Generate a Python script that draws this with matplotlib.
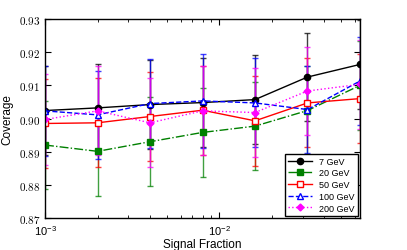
import matplotlib
matplotlib.use("Agg")
import matplotlib.pyplot as plt
from matplotlib.ticker import FuncFormatter, MultipleLocator

plt.rcParams['font.family'] = ['Liberation Sans', 'DejaVu Sans']
plt.rcParams['mathtext.fontset'] = 'cm'

fractions = [0.001, 0.002, 0.004, 0.008, 0.016, 0.032, 0.064]
labels = ["7 GeV", "20 GeV", "50 GeV", "100 GeV", "200 GeV"]
cov_7 = [0.9024, 0.9032, 0.9042, 0.9048, 0.9057, 0.9125, 0.9163]
cov_20 = [0.8920, 0.8901, 0.8930, 0.8958, 0.8977, 0.9024, 0.9100]
cov_50 = [0.8985, 0.8987, 0.9006, 0.9025, 0.8993, 0.9047, 0.9060]
cov_100 = [0.9023, 0.9011, 0.9045, 0.9053, 0.9047, 0.9027, 0.9113]
cov_200 = [0.8997, 0.9023, 0.8987, 0.9023, 0.9018, 0.9083, 0.9103]
err_7 = [0.0134, 0.0133, 0.0134, 0.0134, 0.0133, 0.0134, 0.0134]
err_20 = [0.0134, 0.0135, 0.0134, 0.0135, 0.0132, 0.0134, 0.0134]
err_50 = [0.0134, 0.0134, 0.0133, 0.0134, 0.0135, 0.0134, 0.0134]
err_100 = [0.0135, 0.0133, 0.0135, 0.0142, 0.0134, 0.0132, 0.0134]
err_200 = [0.0136, 0.0134, 0.0134, 0.0134, 0.0134, 0.0134, 0.0134]

series = [cov_7, cov_20, cov_50, cov_100, cov_200]
errs = [err_7, err_20, err_50, err_100, err_200]
colors = ["black", "green", "red", "blue", "magenta"]
styles = ["-", "-.", "-", "--", ":"]
markers = ["o", "s", "s", "^", "D"]
mfcs = ["black", "green", "white", "white", "magenta"]

fig = plt.figure(figsize=(4.07, 2.51), dpi=100)
ax = fig.add_axes([0.1106, 0.1275, 0.7739, 0.7928])

for y, e, c, ls, m, mfc, lab in zip(series, errs, colors, styles, markers, mfcs, labels):
    ax.errorbar(fractions, y, yerr=e, fmt='none', ecolor=c, elinewidth=1.0,
                capsize=2.5, capthick=1.0, alpha=0.75)
for y, c, ls, m, mfc, lab in zip(series, colors, styles, markers, mfcs, labels):
    ms = 4.5 if m != "D" else 3.5
    ax.plot(fractions, y, linestyle=ls, color=c, marker=m, markerfacecolor=mfc,
            markeredgecolor=c, markersize=ms, linewidth=1.0, label=lab)

ax.set_xscale('log')
ax.set_xlim(0.001, 0.064)
ax.set_ylim(0.87, 0.93)
ax.yaxis.set_major_locator(MultipleLocator(0.01))
ax.yaxis.set_major_formatter(FuncFormatter(lambda v, p: r"$%.2f$" % v))
ax.tick_params(axis='both', which='both', direction='in', top=True, right=True,
               labelsize=8)
ax.tick_params(which='major', length=4)
ax.tick_params(which='minor', length=2)
for s in ax.spines.values():
    s.set_linewidth(1.0)

ax.set_xlabel("Signal Fraction", fontsize=8.5, labelpad=1)
ax.set_ylabel("Coverage", fontsize=8.5, labelpad=4)

leg = ax.legend(loc='lower right', fontsize=6.5, fancybox=False, framealpha=1,
                edgecolor='black', handlelength=2.6, borderpad=0.35,
                labelspacing=0.3, borderaxespad=0.25)
leg.get_frame().set_linewidth(1.0)

fig.savefig("out.png", dpi=100)
